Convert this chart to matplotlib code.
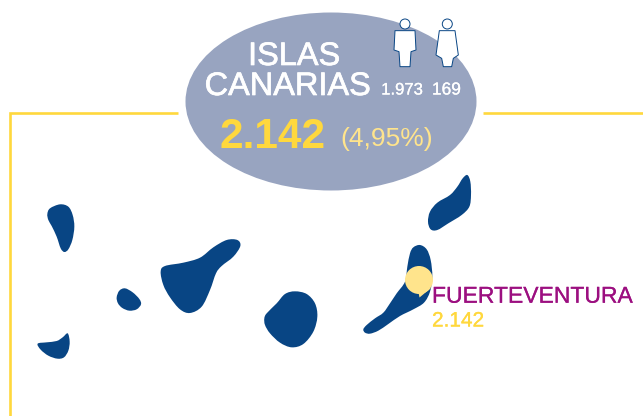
import numpy as np
import matplotlib
matplotlib.use("Agg")
import matplotlib.pyplot as plt
import matplotlib.patheffects as pe
from matplotlib.path import Path
from matplotlib.patches import PathPatch, Ellipse, Circle, Polygon

title_lines = ["ISLAS", "CANARIAS"]
men_value = "1.973"
women_value = "169"
total_value = "2.142"
share_label = "(4,95%)"
island_name = "FUERTEVENTURA"
island_value = "2.142"

# outlines in crop pixel units: (x, y)
la_palma = [(142,72),(150,55),(180,43),(205,50),(218,75),(223,110),(217,150),(205,178),(193,186),(182,175),(170,140),(155,108),(145,90)]
el_hierro = [(113,461),(140,457),(170,453),(188,442),(203,430),(209,455),(205,482),(192,502),(172,506),(145,497),(122,479)]
la_gomera = [(350,322),(358,302),(375,295),(398,307),(418,327),(423,343),(410,358),(388,362),(367,354),(354,340)]
tenerife = [(482,245),(495,228),(550,218),(600,203),(640,172),(680,150),(712,150),(721,168),(700,200),(665,228),(648,250),(630,300),(605,350),(570,369),(540,358),(510,322),(490,285)]
gran_canaria = [(793,385),(800,370),(830,340),(855,312),(885,304),(920,312),(945,340),(952,380),(940,425),(910,462),(875,472),(840,458),(810,430),(795,405)]
lanzarote = [(234,155),(240,125),(262,98),(300,75),(322,50),(338,25),(352,15),(361,35),(363,75),(358,110),(335,135),(295,160),(262,180),(242,178)]
fuerteventura = [(40,478),(50,465),(75,445),(100,428),(120,400),(140,370),(165,335),(172,290),(180,250),(190,232),(210,225),(230,238),(242,270),(247,320),(240,365),(222,398),(190,418),(150,438),(115,462),(85,482),(60,491),(45,488)]
man_body = [(645,92),(705,92),(708,150),(693,155),(690,200),(660,200),(657,155),(642,150)]
woman_body = [(778,92),(825,92),(835,165),(820,175),(815,200),(790,200),(785,175),(768,165)]

BLUE = "#084584"
YELLOW = "#FFD83D"
PALE = "#FFE48C"
GREY = "#98A4C0"
PURPLE = "#9C0F80"
FONT = "Liberation Sans"

fig = plt.figure(figsize=(6.43, 4.16), dpi=100)
ax = fig.add_axes([0, 0, 1, 1])
ax.set_xlim(0, 643)
ax.set_ylim(416, 0)
ax.axis("off")


def to_px(pts, ox, oy):
    a = np.array(pts, float)
    return np.column_stack([ox + a[:, 0] / 3, oy + a[:, 1] / 3])


def blob(pts, **kw):
    """Closed Catmull-Rom outline through the given points."""
    p = np.asarray(pts)
    n = len(p)
    verts = [p[0]]
    codes = [Path.MOVETO]
    for i in range(n):
        p0, p1, p2, p3 = p[i - 1], p[i], p[(i + 1) % n], p[(i + 2) % n]
        verts += [p1 + (p2 - p0) / 6, p2 - (p3 - p1) / 6, p2]
        codes += [Path.CURVE4] * 3
    ax.add_patch(PathPatch(Path(verts, codes), lw=0, **kw))


def heavy(width, color):
    return [pe.withStroke(linewidth=width, foreground=color)]


# frame line
ax.plot([178, 10, 10], [113, 113, 416], color=YELLOW, lw=1.9, solid_joinstyle="miter", solid_capstyle="butt")
ax.plot([483, 643], [113, 113], color=YELLOW, lw=1.9, solid_capstyle="butt")

ax.add_patch(Ellipse((331, 101.5), 291, 178, color=GREY, lw=0))

for pts in (la_palma, el_hierro, la_gomera, tenerife, gran_canaria):
    blob(to_px(pts, 0, 190), color=BLUE)
for pts in (lanzarote, fuerteventura):
    blob(to_px(pts, 350, 170), color=BLUE)

# marker bubble
ax.add_patch(Circle((419, 280), 14, color=PALE, lw=0))
ax.add_patch(Polygon([(418, 290), (431, 288), (419.5, 297.5)], color=PALE, lw=0))

# person icons
for body, hx in ((man_body, 405), (woman_body, 447.3)):
    ax.add_patch(Polygon(to_px(body, 180, 0), closed=True, fc="white", ec=BLUE, lw=0.7, joinstyle="round"))
    ax.add_patch(Circle((hx, 24), 5, fc="white", ec=BLUE, lw=0.7))

kw = dict(family=FONT, ha="center", va="baseline")
ax.text(294, 65, title_lines[0], color="white", fontsize=23.4, path_effects=heavy(0.5, "white"), **kw)
ax.text(287.5, 95, title_lines[1], color="white", fontsize=23.4, path_effects=heavy(0.5, "white"), **kw)
ax.text(402, 94.5, men_value, color="white", fontsize=12, path_effects=heavy(0.2, "white"), **kw)
ax.text(446.5, 94.5, women_value, color="white", fontsize=12.5, path_effects=heavy(0.2, "white"), **kw)
ax.text(272.5, 148, total_value, color=YELLOW, fontsize=30.5, fontweight="bold", **kw)
ax.text(387, 146, share_label, color=PALE, fontsize=19, **kw)
ax.text(432, 302.7, island_name, color=PURPLE, fontsize=16.5, family=FONT, ha="left", va="baseline", path_effects=heavy(0.15, PURPLE))
ax.text(432, 326.5, island_value, color=YELLOW, fontsize=15, family=FONT, ha="left", va="baseline", path_effects=heavy(0.2, YELLOW))

fig.savefig("out.png", dpi=100, facecolor="white")
